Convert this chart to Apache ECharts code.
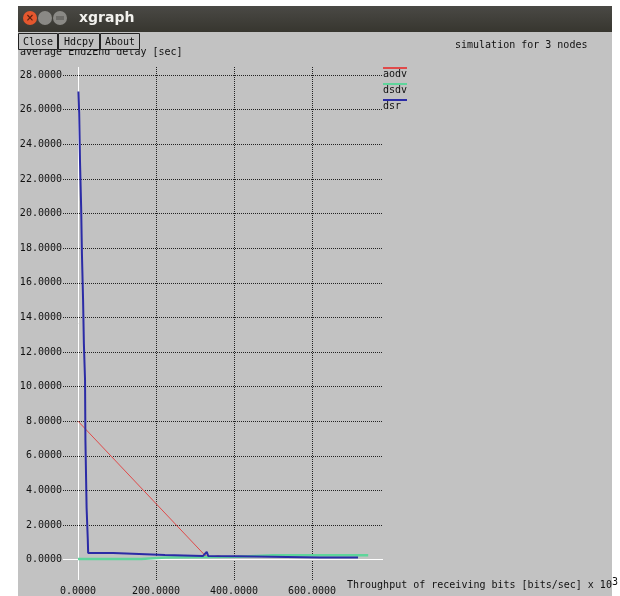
<!DOCTYPE html>
<html>
<head>
<meta charset="utf-8">
<title>xgraph</title>
<script src="https://cdn.jsdelivr.net/npm/echarts@6/dist/echarts.min.js"></script>
<style>
  html, body { margin: 0; padding: 0; background: #fff; }
  #main { width: 620px; height: 596px; }
</style>
</head>
<body>
<div id="main"></div>
<script>
// tick values
var xTicks = [0, 200, 400, 600];
var yTicks = [0, 2, 4, 6, 8, 10, 12, 14, 16, 18, 20, 22, 24, 26, 28];

// series: [throughput (x10^3 bits/sec), average end2end delay (sec)]
var seriesNames = ['aodv', 'dsdv', 'dsr'];
var aodv = [[0, 8.0], [324, 0.28], [330, 0.2], [345, 0.15], [359, 0.22], [372, 0.16], [400, 0.18]];
var dsdv = [[0, 0.04], [162, 0.04], [164, 0.1], [225, 0.12], [410, 0.17], [500, 0.25], [744, 0.25]];
var dsr = [[1, 27.05], [3, 25.8], [5, 23.1], [8, 20.4], [10, 17.7], [13, 15.0], [15, 12.5], [18, 10.4],
  [19, 6.9], [22, 3.0], [25, 1.2], [26, 0.38], [90, 0.38], [91, 0.28], [223, 0.27], [225, 0.21],
  [320, 0.2], [325, 0.24], [330, 0.44], [334, 0.2], [410, 0.19], [412, 0.13], [620, 0.12],
  [624, 0.07], [640, 0.12], [718, 0.12]];

var colors = ['#e04a4a', '#5fd59b', '#2b2ba6'];
var mono = 'DejaVu Sans Mono';

var myChart = echarts.init(document.getElementById('main'));

// dotted grid lines, white zero lines
var gridLines = [];
xTicks.forEach(function (v) {
  gridLines.push(v === 0 ? { xAxis: v, lineStyle: { color: '#ffffff', type: 'solid' } } : { xAxis: v });
});
yTicks.forEach(function (v) {
  gridLines.push(v === 0 ? { yAxis: v, lineStyle: { color: '#ffffff', type: 'solid' } } : { yAxis: v });
});

// legend: short coloured line above each name
var legendItems = [];
seriesNames.forEach(function (name, i) {
  legendItems.push({
    type: 'line', shape: { x1: 383, y1: 68 + i * 16, x2: 407, y2: 68 + i * 16 },
    style: { stroke: colors[i], lineWidth: 2 }
  });
  legendItems.push({
    type: 'text', x: 383, y: 69 + i * 16,
    style: { text: name, fill: '#111', font: '10px "' + mono + '"' }
  });
});

// window chrome
var buttons = [['Close', 18, 39], ['Hdcpy', 58, 41], ['About', 100, 39]];
var chrome = [
  { type: 'rect', shape: { x: 0, y: 0, width: 18, height: 596 }, style: { fill: '#fff' }, z: -1 },
  { type: 'rect', shape: { x: 612, y: 0, width: 8, height: 596 }, style: { fill: '#fff' }, z: -1 },
  { type: 'rect', shape: { x: 0, y: 0, width: 620, height: 6 }, style: { fill: '#fff' }, z: -1 },
  {
    type: 'rect', shape: { x: 18, y: 6, width: 594, height: 26 },
    style: { fill: new echarts.graphic.LinearGradient(0, 0, 0, 1, [
      { offset: 0, color: '#4a4945' }, { offset: 1, color: '#37362f' }]) }
  },
  { type: 'circle', shape: { cx: 30, cy: 18, r: 7 }, style: { fill: '#e4572e' } },
  { type: 'text', x: 30, y: 18, style: { text: '×', fill: '#5a2010', font: 'bold 10px "DejaVu Sans"', align: 'center', verticalAlign: 'middle' } },
  { type: 'circle', shape: { cx: 45, cy: 18, r: 7 }, style: { fill: '#8a8985' } },
  { type: 'circle', shape: { cx: 60, cy: 18, r: 7 }, style: { fill: '#8a8985' } },
  { type: 'rect', shape: { x: 56, y: 16, width: 8, height: 4 }, style: { fill: '#6d6c68' } },
  { type: 'text', x: 79, y: 18, style: { text: 'xgraph', fill: '#f2f1ed', font: 'bold 14px "DejaVu Sans"', verticalAlign: 'middle' } }
];
buttons.forEach(function (b) {
  chrome.push({
    type: 'rect', shape: { x: b[1] + 0.5, y: 33.5, width: b[2], height: 16 },
    style: { fill: '#c2c2c2', stroke: '#222', lineWidth: 1 }, z: 10
  });
  chrome.push({
    type: 'text', x: b[1] + 0.5 + b[2] / 2, y: 42, z: 11,
    style: { text: b[0], fill: '#111', font: '10px "' + mono + '"', align: 'center', verticalAlign: 'middle' }
  });
});

option = {
  animation: false,
  backgroundColor: '#c2c2c2',
  title: [
    {
      text: 'simulation for 3 nodes', left: 455, top: 40, padding: 0,
      textStyle: { fontFamily: mono, fontSize: 10, fontWeight: 'normal', color: '#111' }
    },
    {
      text: 'average End2End delay [sec]', left: 20, top: 47, padding: 0,
      textStyle: { fontFamily: mono, fontSize: 10, fontWeight: 'normal', color: '#111' }
    },
    {
      text: 'Throughput of receiving bits [bits/sec] x 10{sup|3}', left: 347, top: 577, padding: 0,
      textStyle: {
        fontFamily: mono, fontSize: 10, fontWeight: 'normal', color: '#111',
        rich: { sup: { fontFamily: mono, fontSize: 10, color: '#111', verticalAlign: 'top', padding: [0, 0, 6, 0] } }
      }
    }
  ],
  grid: { left: 63, right: 237, top: 67, bottom: 16, containLabel: false },
  xAxis: {
    type: 'value', min: -38.5, max: 782,
    axisLine: { show: false }, axisTick: { show: false }, splitLine: { show: false },
    axisLabel: {
      customValues: xTicks, margin: 6, fontFamily: mono, fontSize: 10, color: '#111',
      formatter: function (v) { return v.toFixed(4); }
    }
  },
  yAxis: {
    type: 'value', min: -1.18, max: 28.47,
    axisLine: { show: false }, axisTick: { show: false }, splitLine: { show: false },
    axisLabel: {
      customValues: yTicks, margin: 1, fontFamily: mono, fontSize: 10, color: '#111',
      formatter: function (v) { return v.toFixed(4); }
    }
  },
  graphic: chrome.concat(legendItems),
  series: [
    {
      name: seriesNames[0], type: 'line', data: aodv, showSymbol: false, z: 2,
      lineStyle: { color: colors[0], width: 1 },
      markLine: {
        silent: true, symbol: 'none', z: 1, label: { show: false },
        lineStyle: { color: '#222', width: 1, type: [1, 1] },
        data: gridLines
      }
    },
    {
      name: seriesNames[1], type: 'line', data: dsdv, showSymbol: false, z: 3,
      lineStyle: { color: colors[1], width: 2.5 }
    },
    {
      name: seriesNames[2], type: 'line', data: dsr, showSymbol: false, z: 4,
      lineStyle: { color: colors[2], width: 2 }
    }
  ]
};

myChart.setOption(option);
</script>
</body>
</html>
